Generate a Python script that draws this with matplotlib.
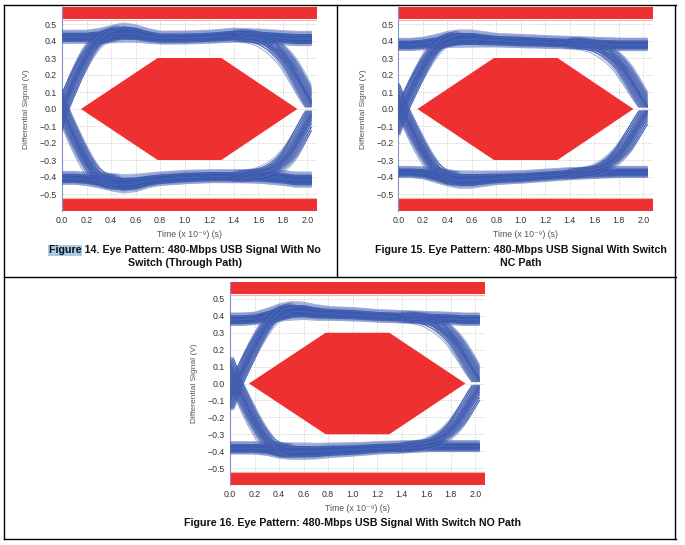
import numpy as np
import matplotlib
matplotlib.use("Agg")
import matplotlib.pyplot as plt
from matplotlib.lines import Line2D
from matplotlib.patches import Rectangle

plt.rcParams['font.family'] = ['Liberation Sans', 'DejaVu Sans']

# ---------------- data ----------------
x_ticks = [0.0, 0.2, 0.4, 0.6, 0.8, 1.0, 1.2, 1.4, 1.6, 1.8, 2.0]
y_ticks = [-0.5, -0.4, -0.3, -0.2, -0.1, 0.0, 0.1, 0.2, 0.3, 0.4, 0.5]

# eye mask (hexagon) and limit bands
hex_t = [0.155, 0.78, 1.30, 1.92, 1.30, 0.78]
hex_v = [0.0, 0.30, 0.30, 0.0, -0.30, -0.30]
limit_band = [0.527, 0.60]

# time grid for the steady-state bands
t_band = [0.0, 0.1, 0.2, 0.3, 0.4, 0.5, 0.6, 0.7, 0.8, 1.0, 1.2, 1.4, 1.6, 1.8, 1.9, 2.04]

# Figure 14 (through path)
top_c1 = [0.425, 0.425, 0.425, 0.43, 0.44, 0.45, 0.445, 0.43, 0.42, 0.42, 0.425, 0.435, 0.43, 0.42, 0.415, 0.415]
top_w1 = [0.030, 0.030, 0.030, 0.034, 0.040, 0.044, 0.040, 0.034, 0.030, 0.030, 0.030, 0.032, 0.032, 0.032, 0.033, 0.033]
bot_c1 = [-0.405, -0.405, -0.41, -0.42, -0.43, -0.44, -0.435, -0.42, -0.41, -0.40, -0.395, -0.395, -0.395, -0.405, -0.415, -0.415]
bot_w1 = [0.030, 0.030, 0.031, 0.034, 0.040, 0.042, 0.040, 0.034, 0.031, 0.031, 0.030, 0.030, 0.032, 0.034, 0.035, 0.035]

# Figure 15 (switch NC path)
top_c2 = [0.38, 0.38, 0.385, 0.395, 0.41, 0.415, 0.415, 0.41, 0.405, 0.40, 0.395, 0.39, 0.385, 0.38, 0.38, 0.38]
top_w2 = [0.028, 0.028, 0.029, 0.033, 0.037, 0.040, 0.039, 0.035, 0.031, 0.031, 0.029, 0.029, 0.029, 0.029, 0.029, 0.029]
bot_c2 = [-0.37, -0.37, -0.375, -0.39, -0.405, -0.415, -0.415, -0.41, -0.405, -0.40, -0.39, -0.38, -0.375, -0.37, -0.37, -0.37]
bot_w2 = [0.026, 0.026, 0.028, 0.033, 0.037, 0.040, 0.039, 0.035, 0.031, 0.029, 0.028, 0.028, 0.026, 0.026, 0.026, 0.026]

# Figure 16 (switch NO path)
top_c3 = [0.38, 0.38, 0.385, 0.40, 0.42, 0.43, 0.43, 0.42, 0.415, 0.41, 0.40, 0.395, 0.39, 0.385, 0.38, 0.38]
top_w3 = [0.029, 0.029, 0.029, 0.034, 0.040, 0.043, 0.040, 0.036, 0.032, 0.031, 0.029, 0.029, 0.029, 0.029, 0.029, 0.029]
bot_c3 = [-0.38, -0.38, -0.38, -0.385, -0.395, -0.40, -0.40, -0.40, -0.395, -0.39, -0.38, -0.375, -0.37, -0.37, -0.37, -0.37]
bot_w3 = [0.029, 0.029, 0.029, 0.031, 0.036, 0.038, 0.038, 0.036, 0.034, 0.031, 0.029, 0.029, 0.026, 0.026, 0.026, 0.026]

# transition edges: time vs fraction of the band level
left_t = [-0.08, -0.04, 0.0, 0.05, 0.10, 0.15, 0.20, 0.25, 0.30, 0.36, 0.44]
left_frac = [-0.40, -0.20, 0.0, 0.20, 0.40, 0.58, 0.74, 0.87, 0.95, 0.99, 1.0]
right_t = [1.45, 1.55, 1.65, 1.73, 1.80, 1.86, 1.91, 1.96, 2.01, 2.06]
right_frac = [1.0, 0.99, 0.95, 0.87, 0.76, 0.63, 0.48, 0.32, 0.16, 0.02]
left_shift = [0.0, 0.03, 0.05]
right_shift = [0.0, -0.02, -0.01]

captions = [
    ["Figure 14. Eye Pattern: 480-Mbps USB Signal With No", "Switch (Through Path)"],
    ["Figure 15. Eye Pattern: 480-Mbps USB Signal With Switch", "NC Path"],
    ["Figure 16. Eye Pattern: 480-Mbps USB Signal With Switch NO Path"],
]

# ---------------- styling ----------------
W, H = 685, 545
BLUE = '#3a5cb0'
TRACE_COLS = ['#3a5cb0', '#4466ba', '#2f4f9f', '#5a55a5', '#5577c8', '#3d5fb5']
RED = '#ee3030'
T_END = 2.035
XMAX = 2.08
CAP_FS = 7.7

fig = plt.figure(figsize=(W / 100, H / 100), dpi=100)


def px_axes(l, r, t, b):
    return fig.add_axes([l / W, 1 - b / H, (r - l) / W, (b - t) / H])


def smooth(a, n=13):
    pad = np.concatenate([np.full(n, a[0]), a, np.full(n, a[-1])])
    k = np.ones(n) / n
    return np.convolve(pad, k, mode='same')[n:-n]


def draw_eye(ax, top_c, top_w, bot_c, bot_w, lsh, rsh):
    tf = np.linspace(0.0, T_END, 400)
    fuzz = np.linspace(-1.3, 1.3, 23)
    for c, w in ((top_c, top_w), (bot_c, bot_w)):
        cc = np.interp(tf, t_band, c)
        ww = np.interp(tf, t_band, w)
        ax.fill_between(tf, cc - 0.9 * ww, cc + 0.9 * ww, color=BLUE, lw=0, zorder=3)
        for i, u in enumerate(fuzz):
            ax.plot(tf, cc + u * ww, color=TRACE_COLS[i % len(TRACE_COLS)],
                    lw=0.5, alpha=0.6, zorder=3)
    nlines = 56
    base = np.linspace(-1.0, 1.0, nlines)
    us = np.sign(base) * np.abs(base) ** 1.4
    for et, ef, sh, jit in ((left_t, left_frac, lsh, 0.06),
                            (right_t, right_frac, rsh, 0.075)):
        idx = np.linspace(0, len(et) - 1, 240)
        tt = smooth(np.interp(idx, np.arange(len(et)), et))
        ff = smooth(np.interp(idx, np.arange(len(ef)), ef))
        for c, w in ((top_c, top_w), (bot_c, bot_w)):
            for k, u in enumerate(us):
                v = base[(k * 13) % nlines] * 1.1
                t = tt + sh + u * jit
                y = ff * (np.interp(t, t_band, c) + v * np.interp(t, t_band, w))
                y = np.where(t > T_END, np.nan, y)
                ax.plot(t, y, color=TRACE_COLS[k % len(TRACE_COLS)],
                        lw=0.6, alpha=0.6, zorder=3)


def style_axes(ax):
    ax.set_xlim(0, XMAX)
    ax.set_ylim(-0.6, 0.6)
    ax.set_xticks(x_ticks)
    ax.set_yticks(y_ticks)
    ax.set_xticklabels([f"{v:.1f}" for v in x_ticks])
    ax.set_yticklabels([f"{v:.1f}".replace('-', '\u2212') for v in y_ticks])
    ax.tick_params(length=0, labelsize=6.3, colors='#333333', pad=3.5)
    ax.grid(True, color='#cfcfcf', lw=0.6, ls=(0, (1.5, 1.5)))
    ax.set_axisbelow(True)
    for s in ('top', 'right', 'bottom'):
        ax.spines[s].set_visible(False)
    ax.spines['left'].set_color('#8a8fd0')
    ax.spines['left'].set_linewidth(0.8)
    ax.set_xlabel("Time (x 10\u207b\u2079) (s)", fontsize=6.3, color='#555555', labelpad=4)
    ax.set_ylabel("Differential Signal (V)", fontsize=6.0, color='#555555')
    ax.yaxis.set_label_coords(-0.125, 0.5)
    ax.axhspan(limit_band[0], limit_band[1], color=RED, lw=0, zorder=2)
    ax.axhspan(-limit_band[1], -limit_band[0], color=RED, lw=0, zorder=2)
    ax.axhline(limit_band[0] - 0.006, color='#f6b0b0', lw=0.8, zorder=2)
    ax.axhline(-limit_band[0] + 0.006, color='#f6b0b0', lw=0.8, zorder=2)
    ax.fill(hex_t, hex_v, color=RED, lw=0, zorder=2)


ax1 = px_axes(62, 317, 7, 211)
ax2 = px_axes(398.5, 653, 7, 211)
ax3 = px_axes(230, 485, 282, 485)

panels = [(ax1, top_c1, top_w1, bot_c1, bot_w1),
          (ax2, top_c2, top_w2, bot_c2, bot_w2),
          (ax3, top_c3, top_w3, bot_c3, bot_w3)]
for i, (ax, tc, tw, bc, bw) in enumerate(panels):
    style_axes(ax)
    draw_eye(ax, tc, tw, bc, bw, left_shift[i], right_shift[i])

# frame lines (pixel coordinates)
frame = [((4, 676), (5, 5)), ((4, 676), (539, 539)), ((4, 4), (5, 539)),
         ((675, 675), (5, 539)), ((337, 337), (5, 277)), ((4, 676), (277, 277))]
for xs, ys in frame:
    fig.add_artist(Line2D([x / W for x in xs], [1 - y / H for y in ys],
                          color='black', lw=1.0))

# captions
cap_pos = [(185, [250, 263]), (521, [250, 263]), (352, [523])]
cap_kw = dict(fontsize=CAP_FS, fontweight='bold', ha='center', va='center', color='#111111')
texts = []
for (cx, ys), lines in zip(cap_pos, captions):
    for y, line in zip(ys, lines):
        texts.append(fig.text(cx / W, 1 - y / H, line, **cap_kw))

# selection highlight behind "Figure" of the first caption
fig.canvas.draw()
r = fig.canvas.get_renderer()
bb = texts[0].get_window_extent(r)
tmp = fig.text(0, 0, "Figure", fontsize=CAP_FS, fontweight='bold')
wfig = tmp.get_window_extent(r).width
tmp.remove()
fig.add_artist(Rectangle((bb.x0 / W - 0.002, (bb.y0 - 0.5) / H), (wfig + 1.5) / W,
                         (bb.height + 1) / H, transform=fig.transFigure,
                         color='#a9cbe8', lw=0, zorder=-1))

fig.savefig('out.png', dpi=100)
